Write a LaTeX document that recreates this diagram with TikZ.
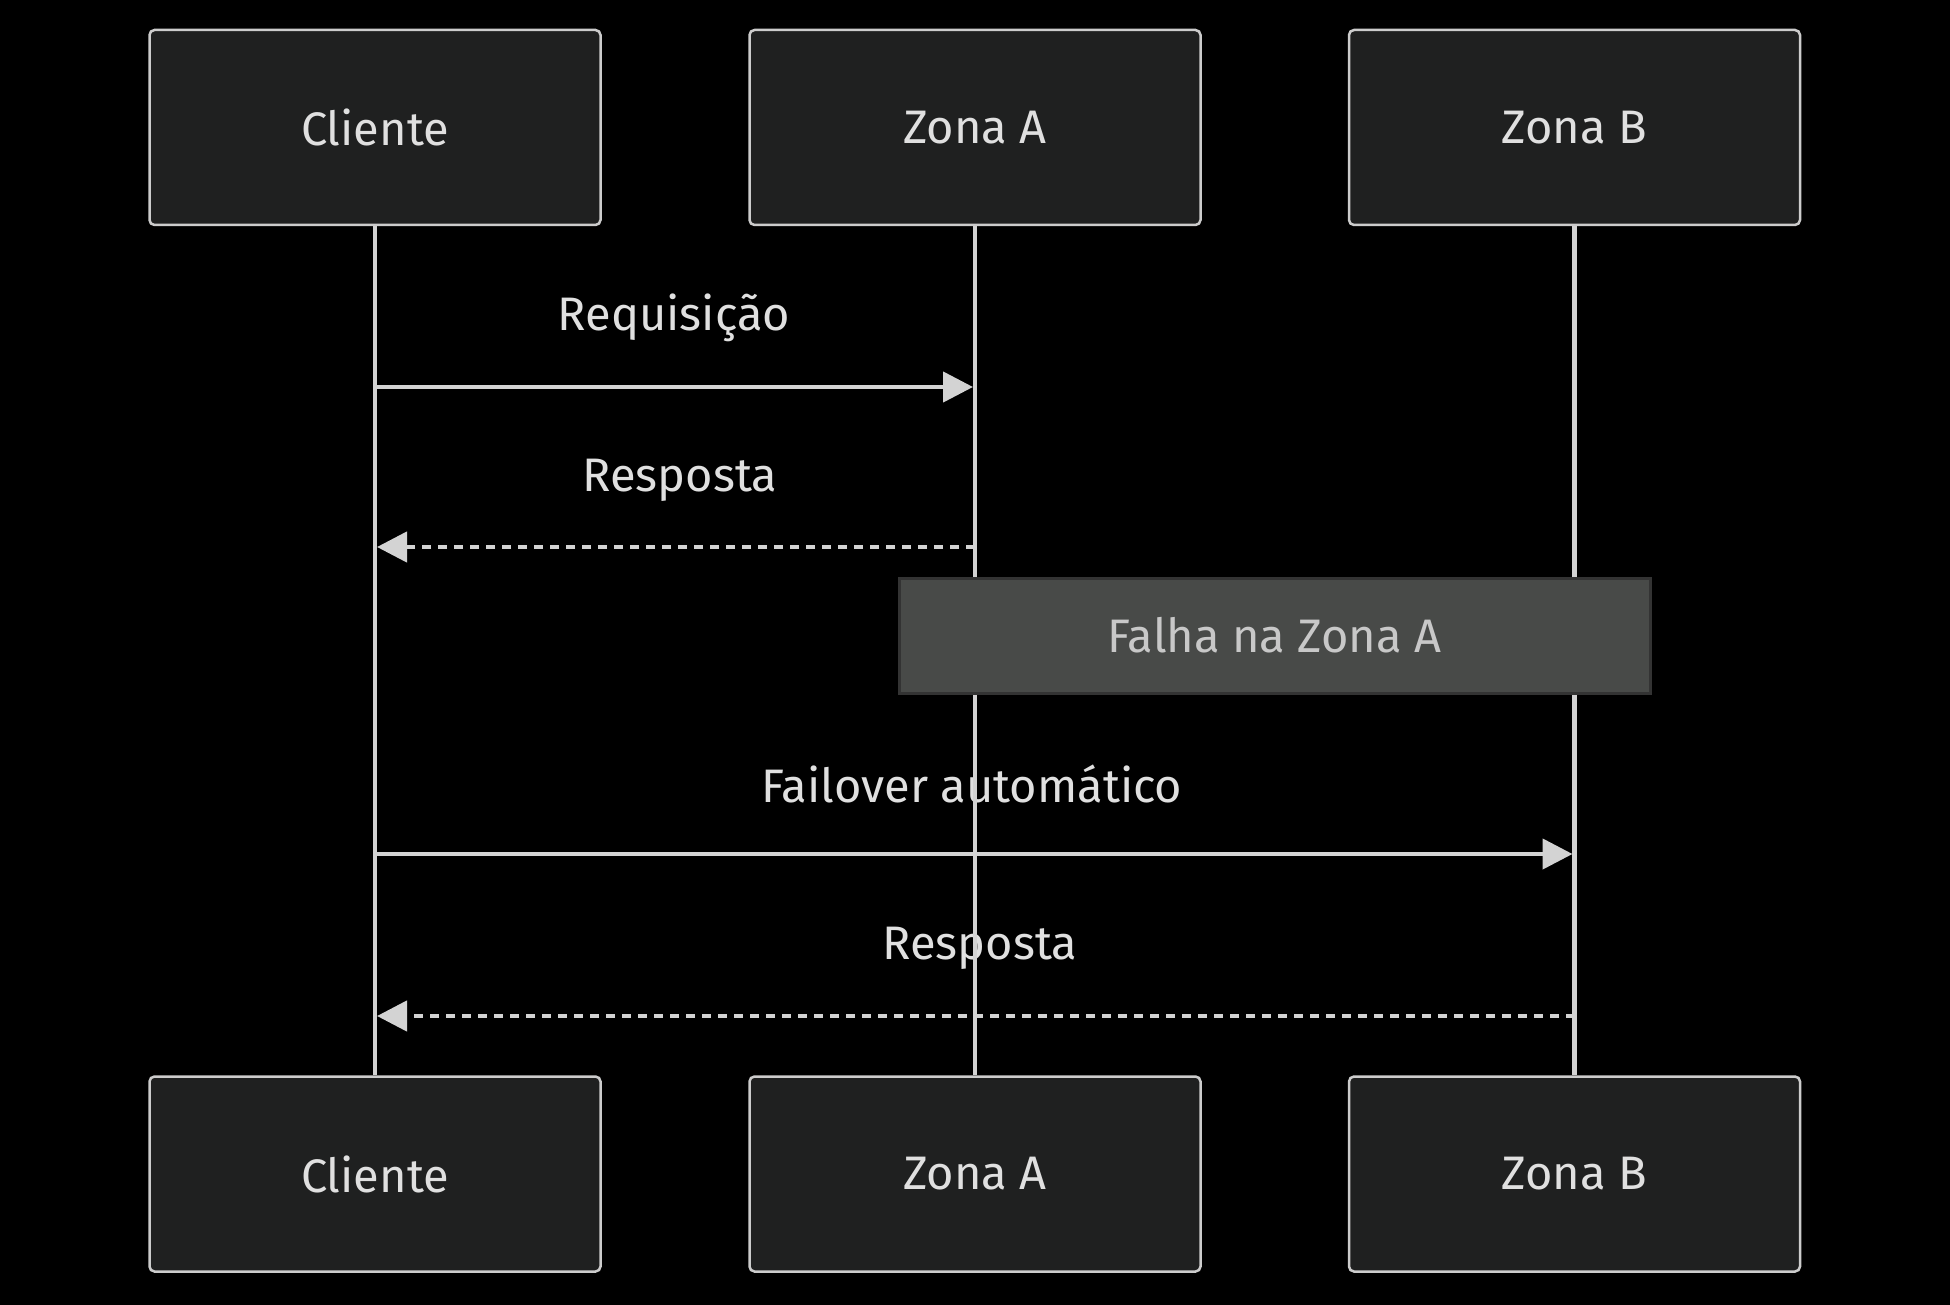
\documentclass[tikz,border=0pt]{standalone}
\usepackage{fontspec}
\setmainfont{Fira Sans}
\usetikzlibrary{arrows.meta}
\definecolor{boxfill}{HTML}{1F2020}
\definecolor{edgegray}{HTML}{CCCCCC}
\definecolor{linegray}{HTML}{D3D3D3}
\definecolor{notefill}{HTML}{484A48}
\definecolor{noteedge}{HTML}{333333}
\definecolor{textgray}{HTML}{E0E0E0}
\definecolor{notetext}{HTML}{C8C8C8}
\newcommand{\bigtxt}{\fontsize{47}{54}\selectfont}

\begin{document}
\begin{tikzpicture}[x=1pt,y=-1pt,
	actor/.style={draw=edgegray,fill=boxfill,line width=2.5pt,rounded corners=5pt,minimum width=451pt,minimum height=195pt,text=textgray,font=\bigtxt},
	life/.style={draw=linegray,line width=4.5pt},
	msgline/.style={draw=linegray,line width=4.5pt,shorten >=2pt,-{Triangle[length=30pt,width=30pt]}},
	reply/.style={msgline,dash pattern=on 9pt off 7pt},
	msglabel/.style={text=textgray,font=\bigtxt},
	notebox/.style={fill=notefill,draw=noteedge,line width=3pt,minimum width=751pt,minimum height=115pt,text=notetext,font=\bigtxt}]
	\fill[black] (0,0) rectangle (1950,1305);
	\useasboundingbox (0,0) rectangle (1950,1305);
	% participants
	\node[actor] (cliTop) at (375,127.5) {Cliente};
	\node[actor] (zaTop) at (975,127.5) {Zona A};
	\node[actor] (zbTop) at (1574.5,127.5) {Zona B};
	\node[actor] (cliBot) at (375,1174) {Cliente};
	\node[actor] (zaBot) at (975,1174) {Zona A};
	\node[actor] (zbBot) at (1574.5,1174) {Zona B};
	% labels
	\node[msglabel] (reqLbl) at (674,318) {Requisição};
	\node[msglabel] (resLbl) at (680,480) {Resposta};
	\node[msglabel] (failLbl) at (972,784) {Failover automático};
	\node[msglabel] (res2Lbl) at (980,948) {Resposta};
	% lifelines
	\draw[life] (cliTop.south) -- (cliBot.north);
	\draw[life] (zaTop.south) -- (zaBot.north);
	\draw[life] (zbTop.south) -- (zbBot.north);
	% messages
	\coordinate (reqS) at (375,387);
	\coordinate (reqE) at (975,387);
	\coordinate (resS) at (975,547);
	\coordinate (resE) at (375,547);
	\coordinate (failS) at (375,854);
	\coordinate (failE) at (1574.5,854);
	\coordinate (res2S) at (1574.5,1016);
	\coordinate (res2E) at (375,1016);
	\draw[msgline] (reqS) -- (reqE);
	\draw[reply] (resS) -- (resE);
	\draw[msgline] (failS) -- (failE);
	\draw[reply] (res2S) -- (res2E);
	% note
	\node[notebox] (falha) at (1274.5,635.5) {Falha na Zona A};
\end{tikzpicture}
\end{document}
